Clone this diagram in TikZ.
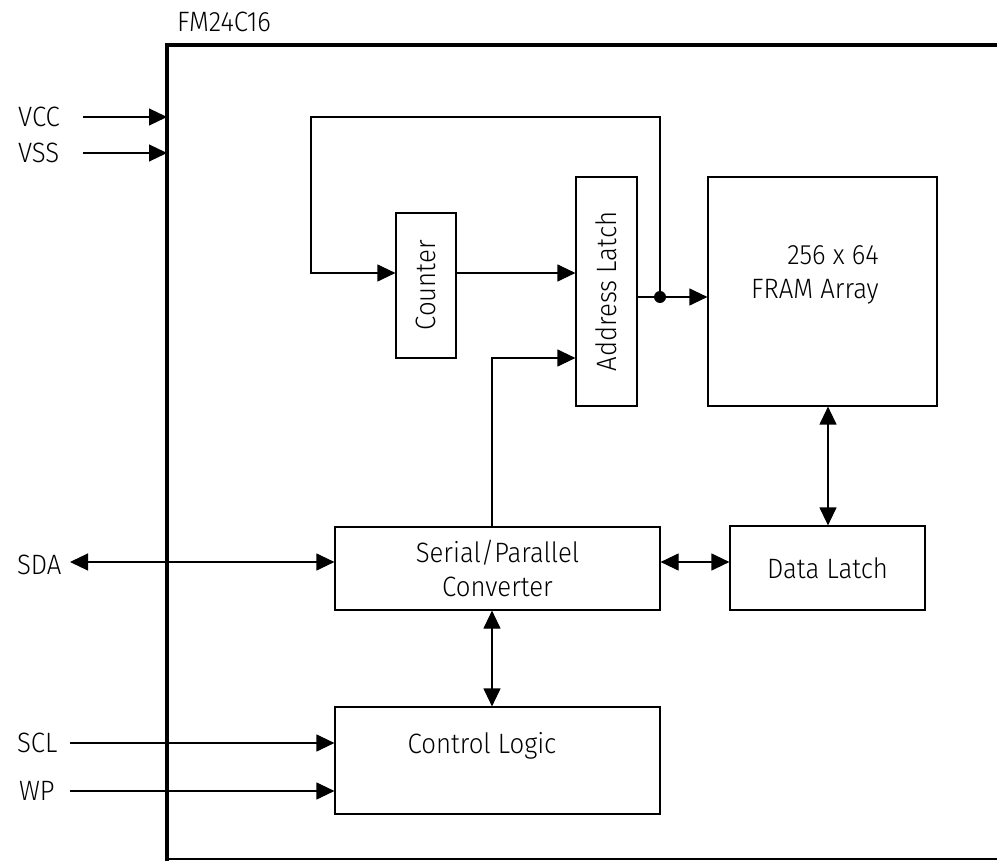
\documentclass[tikz,border=0pt]{standalone}
\usepackage{fontspec}
\setmainfont{Fira Sans}[UprightFont=* Light, FakeStretch=0.92]
\usetikzlibrary{arrows.meta,positioning,calc}

\begin{document}
\begin{tikzpicture}[
	%	style def
	x=0.5pt, y=-0.5pt,
	signal line/.style={line width=0.6pt},
	chip line/.style={line width=2pt},
	block/.style={draw, line width=0.6pt, inner sep=0pt},
	pin/.style={anchor=west},
	>={Triangle[length=9pt, width=8.5pt]},
	every node/.style={color=black, font=\fontsize{14}{17}\selectfont}
	]
	\useasboundingbox (0,0) rectangle (997,861);

	% chip outline
	\draw[chip line] (167,870) -- (167,45) -- (1010,45);
	\draw[signal line] (167,859) -- (1010,859);
	\node[anchor=west] (chip) at (170,22) {FM24C16};

	% blocks
	\node[block, minimum width=30pt, minimum height=72.5pt] (counter) at (426,285.5) {\rotatebox{90}{Counter}};
	\node[block, minimum width=30.5pt, minimum height=114.5pt] (latch) at (606.5,291.5) {\rotatebox{90}{Address Latch}};
	\node[block, minimum width=114.5pt, minimum height=114.5pt] (fram) at (822.5,291.5) {};
	\node[align=right] (fram text) at (815,275) {256 x 64\\FRAM Array};
	\node[block, minimum width=97.5pt, minimum height=42pt] (data) at (827.5,568) {Data Latch};
	\node[block, minimum width=162.5pt, minimum height=41.5pt, align=center] (conv) at (497.5,568.5) {Serial/Parallel\\Converter};
	\node[block, minimum width=162.5pt, minimum height=53.5pt] (ctrl) at (497.5,760.5) {};
	\node (ctrl text) at (482,746) {Control Logic};

	% power pins
	\node[pin] (vcc) at (11,117) {VCC};
	\node[pin] (vss) at (11,153) {VSS};
	\coordinate (vcc in) at (83,117);
	\coordinate (vss in) at (83,153);
	\draw[signal line, ->] (vcc in) -- (167,117);
	\draw[signal line, ->] (vss in) -- (167,153);

	% serial pins
	\node[pin] (sda) at (10,565) {SDA};
	\node[pin] (scl) at (10,743) {SCL};
	\node[pin] (wp) at (12,791) {WP};
	\coordinate (sda in) at (70,562);
	\coordinate (scl in) at (70,743);
	\coordinate (wp in) at (70,791);
	\draw[signal line, <->] (sda in) -- (sda in -| conv.west);
	\draw[signal line, ->] (scl in) -- (scl in -| ctrl.west);
	\draw[signal line, ->] (wp in) -- (wp in -| ctrl.west);

	% address path
	\coordinate (tap) at (660,297);
	\coordinate (cnt in) at (311,273);
	\draw[signal line] (latch.east |- tap) -- (tap);
	\draw[signal line, ->] (tap) -- (tap -| fram.west);
	\draw[signal line, ->] (tap) -- (660,117) -- (311,117) -- (cnt in) -- (cnt in -| counter.west);
	\draw[signal line, ->] (counter.east |- cnt in) -- (cnt in -| latch.west);
	\draw[signal line, ->] (conv.north -| 492,0) -- (492,358) -- (latch.west |- 0,358);
	\fill[black] (tap) circle (3pt);

	% data path
	\draw[signal line, <->] (fram.south -| 828,0) -- (data.north -| 828,0);
	\draw[signal line, <->] (conv.east |- 0,562) -- (data.west |- 0,562);
	\draw[signal line, <->] (conv.south -| 492,0) -- (ctrl.north -| 492,0);
\end{tikzpicture}
\end{document}
